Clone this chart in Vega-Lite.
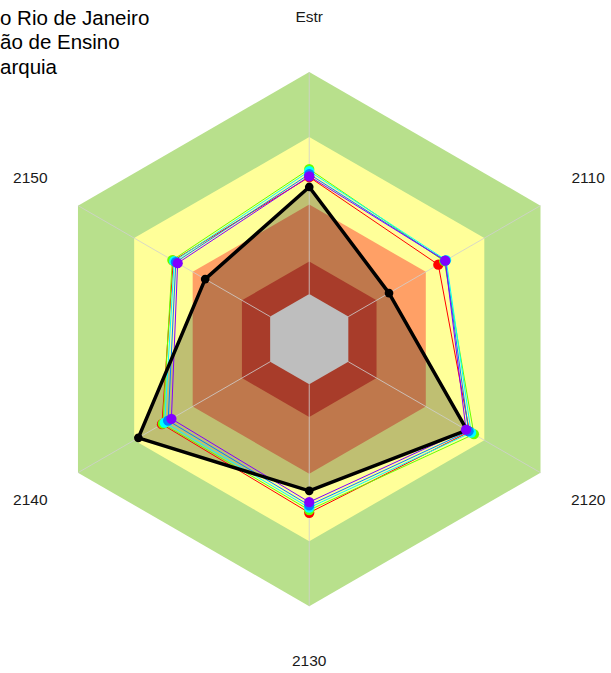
{
  "$schema": "https://vega.github.io/schema/vega-lite/v6.json",
  "width": 611,
  "height": 673,
  "autosize": {"type": "none"},
  "padding": 0,
  "background": "white",
  "config": {"view": {"stroke": null}},
  "title": {
    "text": ["o Rio de Janeiro", "ão de Ensino", "arquia"],
    "anchor": "start",
    "frame": "group",
    "font": "Liberation Sans",
    "fontSize": 20.5,
    "fontWeight": "normal",
    "color": "#000000",
    "lineHeight": 24.5,
    "offset": 0,
    "dy": 78
  },
  "resolve": {"scale": {"color": "independent"}},
  "datasets": {
    "bands": [
      {"band": "b1", "r": 100, "ax": [0, 1, 2, 3, 4, 5]},
      {"band": "b2", "r": 75.7, "ax": [0, 1, 2, 3, 4, 5]},
      {"band": "b3", "r": 50.4, "ax": [0, 1, 2, 3, 4, 5]},
      {"band": "b4", "r": 29.1, "ax": [0, 1, 2, 3, 4, 5]},
      {"band": "b5", "r": 16.9, "ax": [0, 1, 2, 3, 4, 5]}
    ],
    "axes": [
      {"label": "Estr", "a": 0},
      {"label": "2110", "a": 1},
      {"label": "2120", "a": 2},
      {"label": "2130", "a": 3},
      {"label": "2140", "a": 4},
      {"label": "2150", "a": 5}
    ],
    "series": [
      {"s": "s1", "a": 0, "v": 60.7},
      {"s": "s1", "a": 1, "v": 55.8},
      {"s": "s1", "a": 2, "v": 69.3},
      {"s": "s1", "a": 3, "v": 65.0},
      {"s": "s1", "a": 4, "v": 63.7},
      {"s": "s1", "a": 5, "v": 58.8},
      {"s": "s2", "a": 0, "v": 63.7},
      {"s": "s2", "a": 1, "v": 58.4},
      {"s": "s2", "a": 2, "v": 71.2},
      {"s": "s2", "a": 3, "v": 64.0},
      {"s": "s2", "a": 4, "v": 63.3},
      {"s": "s2", "a": 5, "v": 59.2},
      {"s": "s3", "a": 0, "v": 62.9},
      {"s": "s3", "a": 1, "v": 59.2},
      {"s": "s3", "a": 2, "v": 70.0},
      {"s": "s3", "a": 3, "v": 63.1},
      {"s": "s3", "a": 4, "v": 62.5},
      {"s": "s3", "a": 5, "v": 58.4},
      {"s": "s4", "a": 0, "v": 61.8},
      {"s": "s4", "a": 1, "v": 58.8},
      {"s": "s4", "a": 2, "v": 68.9},
      {"s": "s4", "a": 3, "v": 62.2},
      {"s": "s4", "a": 4, "v": 61.0},
      {"s": "s4", "a": 5, "v": 57.7},
      {"s": "s5", "a": 0, "v": 61.0},
      {"s": "s5", "a": 1, "v": 58.8},
      {"s": "s5", "a": 2, "v": 67.8},
      {"s": "s5", "a": 3, "v": 61.0},
      {"s": "s5", "a": 4, "v": 59.6},
      {"s": "s5", "a": 5, "v": 56.9}
    ],
    "ref": [
      {"s": "ref", "a": 0, "v": 57.0},
      {"s": "ref", "a": 1, "v": 34.5},
      {"s": "ref", "a": 2, "v": 68.2},
      {"s": "ref", "a": 3, "v": 56.8},
      {"s": "ref", "a": 4, "v": 73.9},
      {"s": "ref", "a": 5, "v": 45.0}
    ]
  },
  "encoding": {
    "x": {"field": "x", "type": "quantitative", "scale": {"domain": [-115.8, 113.0], "nice": false, "zero": false}, "axis": null},
    "y": {"field": "y", "type": "quantitative", "scale": {"domain": [-125.0, 127.0], "nice": false, "zero": false}, "axis": null}
  },
  "layer": [
    {
      "data": {"name": "bands"},
      "transform": [
        {"filter": "datum.r > 40"},
        {"flatten": ["ax"]},
        {"calculate": "datum.ax * PI / 3", "as": "ang"},
        {"calculate": "datum.r * sin(datum.ang)", "as": "x"},
        {"calculate": "datum.r * cos(datum.ang)", "as": "y"}
      ],
      "mark": {"type": "line", "interpolate": "linear-closed", "filled": true, "strokeWidth": 0},
      "encoding": {
        "color": {"field": "band", "type": "nominal", "legend": null,
          "scale": {"domain": ["b1", "b2", "b3"], "range": ["#B8E08C", "#FFFF99", "#FFA066"]}},
        "order": {"field": "ax", "type": "quantitative"}
      }
    },
    {
      "data": {"name": "ref"},
      "transform": [
        {"calculate": "datum.a * PI / 3", "as": "ang"},
        {"calculate": "datum.v * sin(datum.ang)", "as": "x"},
        {"calculate": "datum.v * cos(datum.ang)", "as": "y"}
      ],
      "mark": {"type": "line", "interpolate": "linear-closed", "filled": true, "color": "#000000", "fillOpacity": 0.25, "strokeWidth": 0},
      "encoding": {"order": {"field": "a", "type": "quantitative"}}
    },
    {
      "data": {"name": "bands"},
      "transform": [
        {"filter": "datum.r < 40"},
        {"flatten": ["ax"]},
        {"calculate": "datum.ax * PI / 3", "as": "ang"},
        {"calculate": "datum.r * sin(datum.ang)", "as": "x"},
        {"calculate": "datum.r * cos(datum.ang)", "as": "y"}
      ],
      "mark": {"type": "line", "interpolate": "linear-closed", "filled": true, "strokeWidth": 0},
      "encoding": {
        "color": {"field": "band", "type": "nominal", "legend": null,
          "scale": {"domain": ["b4", "b5"], "range": ["#A83C2A", "#BEBEBE"]}},
        "order": {"field": "ax", "type": "quantitative"}
      }
    },
    {
      "data": {"name": "axes"},
      "transform": [
        {"calculate": "datum.a * PI / 3", "as": "ang"},
        {"calculate": "16.9 * sin(datum.ang)", "as": "x"},
        {"calculate": "16.9 * cos(datum.ang)", "as": "y"},
        {"calculate": "100 * sin(datum.ang)", "as": "x2"},
        {"calculate": "100 * cos(datum.ang)", "as": "y2"}
      ],
      "mark": {"type": "rule", "color": "#D0D0D0", "strokeWidth": 1, "opacity": 0.8},
      "encoding": {"x2": {"field": "x2"}, "y2": {"field": "y2"}}
    },
    {
      "data": {"name": "series"},
      "transform": [
        {"calculate": "datum.a * PI / 3", "as": "ang"},
        {"calculate": "datum.v * sin(datum.ang)", "as": "x"},
        {"calculate": "datum.v * cos(datum.ang)", "as": "y"}
      ],
      "mark": {"type": "line", "interpolate": "linear-closed", "strokeWidth": 1},
      "encoding": {
        "color": {"field": "s", "type": "nominal", "legend": null,
          "scale": {"domain": ["s1", "s2", "s3", "s4", "s5"], "range": ["#FF0000", "#66FF00", "#00FFFF", "#0080FF", "#8000FF"]}},
        "order": {"field": "a", "type": "quantitative"}
      }
    },
    {
      "data": {"name": "ref"},
      "transform": [
        {"calculate": "datum.a * PI / 3", "as": "ang"},
        {"calculate": "datum.v * sin(datum.ang)", "as": "x"},
        {"calculate": "datum.v * cos(datum.ang)", "as": "y"}
      ],
      "mark": {"type": "line", "interpolate": "linear-closed", "color": "#000000", "strokeWidth": 3.5, "strokeJoin": "round"},
      "encoding": {"order": {"field": "a", "type": "quantitative"}}
    },
    {
      "data": {"name": "ref"},
      "transform": [
        {"calculate": "datum.a * PI / 3", "as": "ang"},
        {"calculate": "datum.v * sin(datum.ang)", "as": "x"},
        {"calculate": "datum.v * cos(datum.ang)", "as": "y"}
      ],
      "mark": {"type": "circle", "color": "#000000", "opacity": 1, "size": 75}
    },
    {
      "data": {"name": "series"},
      "transform": [
        {"calculate": "datum.a * PI / 3", "as": "ang"},
        {"calculate": "datum.v * sin(datum.ang)", "as": "x"},
        {"calculate": "datum.v * cos(datum.ang)", "as": "y"}
      ],
      "mark": {"type": "circle", "opacity": 1, "size": 105},
      "encoding": {
        "color": {"field": "s", "type": "nominal", "legend": null,
          "scale": {"domain": ["s1", "s2", "s3", "s4", "s5"], "range": ["#FF0000", "#66FF00", "#00FFFF", "#0080FF", "#8000FF"]}}
      }
    },
    {
      "data": {"name": "axes"},
      "transform": [
        {"calculate": "datum.a * PI / 3", "as": "ang"},
        {"calculate": "120.6 * sin(datum.ang)", "as": "x"},
        {"calculate": "120.6 * cos(datum.ang)", "as": "y"}
      ],
      "mark": {"type": "text", "font": "Liberation Sans", "fontSize": 15.5, "color": "#1A1A1A", "align": "center", "baseline": "middle"},
      "encoding": {"text": {"field": "label"}}
    }
  ]
}
